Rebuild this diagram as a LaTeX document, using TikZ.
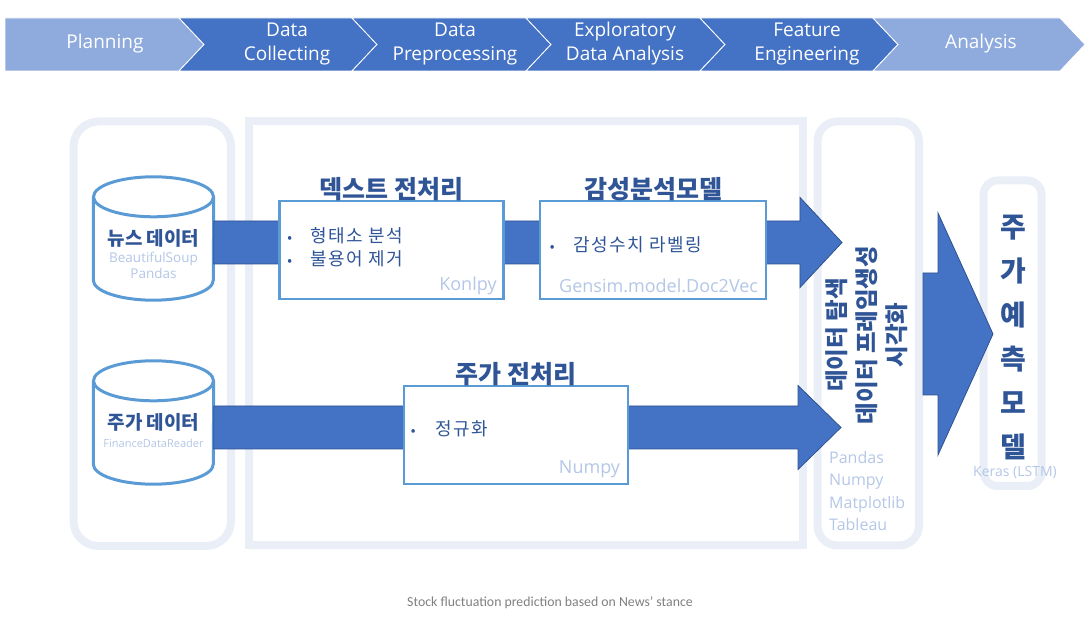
\documentclass[tikz,border=0pt]{standalone}
\usepackage{fontspec}
\setmainfont{Open Sans}
\newfontfamily\kr{Noto Sans CJK KR}
\newfontfamily\krwide[LetterSpace=8]{Noto Sans CJK KR}
\newfontfamily\capfont{Carlito}
\usepackage{tikz}
\usetikzlibrary{calc,positioning}

\definecolor{chevdark}{HTML}{4472C4}
\definecolor{chevlight}{HTML}{8FAADC}
\definecolor{arrowline}{HTML}{2F528F}
\definecolor{boxline}{HTML}{5B9BD5}
\definecolor{panelline}{HTML}{E9EEF7}
\definecolor{navy}{HTML}{2F5597}
\definecolor{tooltxt}{HTML}{B4C7E7}
\definecolor{captxt}{HTML}{7F7F7F}

\tikzset{
  panel/.style = {draw=panelline, line width=8pt, inner sep=0pt},
  stepbox/.style = {draw=boxline, line width=2.5pt, fill=white, inner sep=0pt,
                    minimum height=98pt},
  blockarrow/.style = {fill=chevdark, draw=arrowline, line width=0.8pt},
  dbline/.style = {draw=boxline, line width=3pt, fill=white}
}

\begin{document}
\begin{tikzpicture}[x=1pt,y=1pt,every node/.style={inner sep=0pt},
    phase/.style={text=white,font=\fontsize{19}{24}\selectfont,align=center},
    boxtitle/.style={text=navy,font=\kr\bfseries\fontsize{25}{30}\selectfont},
    dbname/.style={text=navy,font=\kr\bfseries\fontsize{19}{22}\selectfont},
    item/.style={text=navy,font=\krwide\fontsize{18}{22}\selectfont,anchor=west},
    tool/.style={text=tooltxt,font=\fontsize{18}{22}\selectfont},
    dbbody/.style={minimum width=120pt,minimum height=83pt}]
  \useasboundingbox (0,0) rectangle (1091,631);

  % process chevrons
  \foreach \xa/\xb/\nt/\col in {5/179/0/chevlight, 179/352/25/chevdark,
      352/526/25/chevdark, 526/700/25/chevdark, 700/873/25/chevdark,
      873/1060/25/chevlight}
    \fill[\col, draw=white, line width=0.8pt] (\xa,560) -- (\xb,560) -- ({\xb+25},586.5)
      -- (\xb,613) -- (\xa,613) -- ({\xa+\nt},586.5) -- cycle;
  \foreach \x/\t [count=\i] in {105/Planning, 287/Data\\Collecting,
      455/Data\\Preprocessing, 625/Exploratory\\Data Analysis,
      807/Feature\\Engineering, 981/Analysis}
    \node[phase] (phase\i) at (\x,587) {\t};

  % panels
  \node[panel, rounded corners=25pt, minimum width=157.5pt, minimum height=424.5pt]
    (srcpanel) at (152.25,297.25) {};
  \node[panel, minimum width=554pt, minimum height=424pt] (prepanel) at (525.5,297.5) {};
  \node[panel, rounded corners=20pt, minimum width=101.5pt, minimum height=424pt]
    (edapanel) at (868.25,297.5) {};
  \node[panel, rounded corners=14pt, minimum width=58pt, minimum height=305.5pt]
    (modelpanel) at (1012.5,297.75) {};

  % databases
  \node[dbbody] (news) at (153.5,392.5) {};
  \node[dbbody] (stock) at (153.5,208.5) {};
  \foreach \db in {news,stock} {
    \draw[dbline] (\db.north west) -- (\db.south west)
      arc[start angle=180,end angle=360,x radius=60,y radius=20] -- (\db.north east);
    \draw[dbline] (\db.north) ellipse[x radius=60,y radius=20];
  }
  \node[dbname] (newsname) at (153.5,393) {뉴스 데이터};
  \node[tool, font=\fontsize{13.5}{16}\selectfont, align=center] (newstool)
    at (153.5,366) {BeautifulSoup\\Pandas};
  \node[dbname] (stockname) at (153.5,209) {주가 데이터};
  \node[tool, font=\fontsize{11}{14}\selectfont] (stocktool) at (153.5,188) {FinanceDataReader};

  % flow arrows
  \coordinate (tipA) at (842,388.5);
  \coordinate (srcA) at (news.east |- tipA);
  \draw[blockarrow] (srcA) ++(0,21.5) -- ($(tipA)+(-42,21.5)$) -- ($(tipA)+(-42,45)$)
    -- (tipA) -- ($(tipA)+(-42,-45)$) -- ($(tipA)+(-42,-21.5)$) -- ($(srcA)+(0,-21.5)$) -- cycle;
  \coordinate (tipB) at (841,203.5);
  \coordinate (srcB) at (stock.east |- tipB);
  \draw[blockarrow] (srcB) ++(0,21.5) -- ($(tipB)+(-43,21.5)$) -- ($(tipB)+(-43,42)$)
    -- (tipB) -- ($(tipB)+(-43,-42)$) -- ($(tipB)+(-43,-21.5)$) -- ($(srcB)+(0,-21.5)$) -- cycle;

  % preprocessing steps
  \node[stepbox, minimum width=224pt] (textbox) at (391.5,381) {};
  \node[stepbox, minimum width=226pt] (sentbox) at (653,381) {};
  \node[stepbox, minimum width=224pt] (pricebox) at (516,196) {};
  \node[boxtitle, above=-1pt of textbox] (texttitle) {덱스트 전처리};
  \node[boxtitle, above=-1pt of sentbox] (senttitle) {감성분석모델};
  \node[boxtitle, above=-1pt of pricebox] (pricetitle) {주가 전처리};
  \node[item] (morph) at ([xshift=9pt,yshift=14pt]textbox.west)
    {\makebox[23pt][l]{\fontsize{14}{14}\selectfont\textbullet}형태소 분석};
  \node[item] (stopw) at ([xshift=9pt,yshift=-9pt]textbox.west)
    {\makebox[23pt][l]{\fontsize{14}{14}\selectfont\textbullet}불용어 제거};
  \node[item] (label) at ([xshift=11pt,yshift=5pt]sentbox.west)
    {\makebox[24pt][l]{\fontsize{14}{14}\selectfont\textbullet}감성수치 라벨링};
  \node[item] (norm) at ([xshift=8pt,yshift=6pt]pricebox.west)
    {\makebox[25pt][l]{\fontsize{14}{14}\selectfont\textbullet}정규화};
  \node[tool, anchor=east] (konlpy) at ([xshift=-8pt,yshift=14pt]textbox.south east) {Konlpy};
  \node[tool, anchor=east] (gensim) at ([xshift=-9pt,yshift=14pt]sentbox.south east)
    {Gensim.model.Doc2Vec};
  \node[tool, anchor=east] (numpy) at ([xshift=-9pt,yshift=16pt]pricebox.south east) {Numpy};

  % exploration
  \node[text=navy, font=\kr\bfseries\fontsize{23.5}{30}\selectfont, align=center, rotate=90]
    (edatext) at (867,296) {데이터 탐색\\데이터 프레임생성\\시각화};
  \node[tool, font=\fontsize{16}{22.5}\selectfont, align=left, anchor=west]
    (edatool) at (829,140) {Pandas\\Numpy\\Matplotlib\\Tableau};

  % model
  \coordinate (tipC) at (993,297);
  \coordinate (srcC) at (edapanel.east |- tipC);
  \draw[blockarrow] (srcC) ++(0,61) -- ($(tipC)+(-55,61)$) -- ($(tipC)+(-55,121)$)
    -- (tipC) -- ($(tipC)+(-55,-121)$) -- ($(tipC)+(-55,-61)$) -- ($(srcC)+(0,-61)$) -- cycle;
  \node[text=navy, font=\kr\bfseries\fontsize{28}{44}\selectfont, align=center]
    (modeltext) at (1013,294) {주\\가\\예\\측\\모\\델};
  \node[tool, font=\fontsize{14}{16}\selectfont] (keras) at (1015,158) {Keras (LSTM)};

  \node[text=captxt, font=\capfont\fontsize{13.8}{16}\selectfont] (caption) at (550,28)
    {Stock fluctuation prediction based on News’ stance};
\end{tikzpicture}
\end{document}
